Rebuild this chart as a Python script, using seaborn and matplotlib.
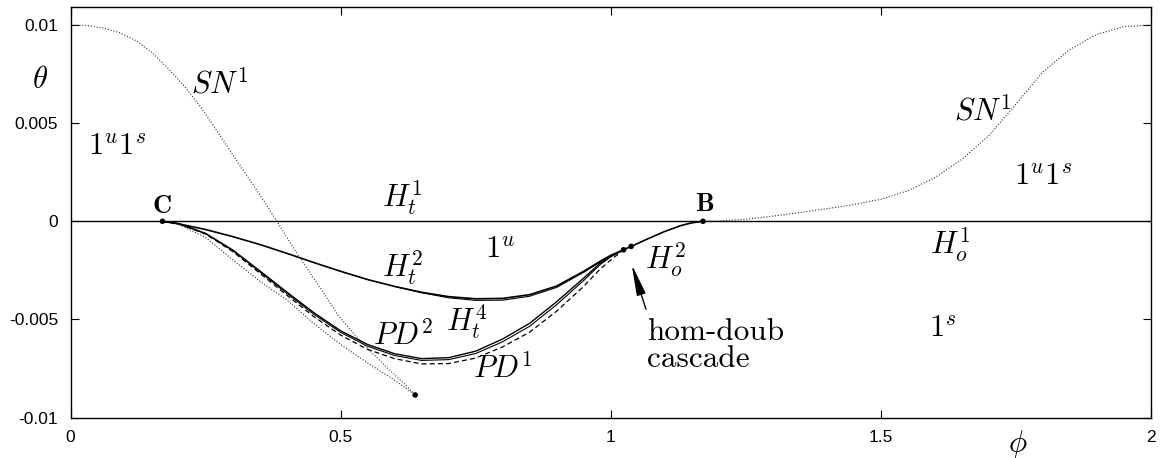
import matplotlib
matplotlib.use("Agg")
import matplotlib.pyplot as plt
import seaborn as sns

# values: phi (x) and theta (y)
zero_phi = [0.0, 2.0]
zero_theta = [0.0, 0.0]

sn1_left_phi = [0.0, 0.03, 0.06, 0.09, 0.12, 0.15, 0.18, 0.21, 0.24, 0.27, 0.30, 0.33, 0.36, 0.382,
                0.414, 0.44, 0.464, 0.495, 0.525, 0.55, 0.588, 0.618, 0.638]
sn1_left_theta = [0.0100, 0.00998, 0.00985, 0.00962, 0.00922, 0.00862, 0.00780, 0.00690, 0.00585,
                  0.00465, 0.00340, 0.00218, 0.00095, 0.0,
                  -0.00142, -0.0025, -0.00346, -0.00478, -0.00575, -0.00648, -0.00752, -0.00828, -0.00885]

sn1_right_phi = [1.171, 1.2, 1.25, 1.3, 1.354, 1.4, 1.45, 1.5, 1.55, 1.6, 1.65, 1.7, 1.75, 1.8,
                 1.85, 1.9, 1.95, 2.0]
sn1_right_theta = [0.0, 0.00002, 0.0001, 0.00026, 0.00046, 0.00064, 0.00085, 0.00112, 0.00155,
                   0.00222, 0.00315, 0.00435, 0.00595, 0.0076, 0.00875, 0.00952, 0.00992, 0.0100]

low_dot_phi = [0.17, 0.2, 0.25, 0.3, 0.35, 0.4, 0.45, 0.5, 0.55, 0.6, 0.638]
low_dot_theta = [0.0, -0.00016, -0.00082, -0.00196, -0.00305, -0.004, -0.0052, -0.00628, -0.00722,
                 -0.0081, -0.00885]

ht2_phi = [0.17, 0.2, 0.25, 0.3, 0.35, 0.4, 0.45, 0.5, 0.55, 0.6, 0.65, 0.7, 0.75, 0.8, 0.85,
           0.9, 0.95, 0.983, 1.0, 1.024, 1.038, 1.07, 1.1, 1.13, 1.15, 1.171]
ht2_theta = [0.0, -0.00013, -0.00042, -0.00078, -0.00118, -0.00163, -0.0021, -0.00255, -0.00297,
             -0.00332, -0.00362, -0.00384, -0.00395, -0.00393, -0.00374, -0.0033, -0.00255, -0.002,
             -0.00174, -0.00145, -0.00128, -0.00088, -0.00052, -0.00022, -0.00008, 0.0]

ht4_phi = [0.6, 0.65, 0.7, 0.75, 0.8, 0.85, 0.9, 0.95, 0.983, 1.0, 1.024]
ht4_theta = [-0.00332, -0.00364, -0.0039, -0.00403, -0.00402, -0.00382, -0.00337, -0.0026,
             -0.00204, -0.00177, -0.00145]

pd2_phi = [0.17, 0.2, 0.25, 0.3, 0.35, 0.4, 0.45, 0.5, 0.55, 0.6, 0.65, 0.7, 0.75, 0.8, 0.85,
           0.9, 0.95, 0.98, 1.0, 1.024]
pd2_theta = [0.0, -0.00012, -0.00062, -0.00146, -0.00252, -0.0036, -0.00465, -0.00558, -0.00628,
             -0.00675, -0.007, -0.00695, -0.00662, -0.006, -0.0052, -0.0041, -0.0029, -0.00215,
             -0.00178, -0.00145]
pd2b_theta = [0.0, -0.00012, -0.00063, -0.00149, -0.00257, -0.00367, -0.00473, -0.00566, -0.00637,
              -0.00684, -0.00709, -0.00705, -0.00674, -0.00614, -0.00535, -0.00425, -0.00302,
              -0.00222, -0.00182, -0.00145]
pd1_theta = [0.0, -0.00013, -0.00065, -0.00154, -0.00264, -0.00376, -0.00485, -0.0058, -0.00653,
             -0.007, -0.00727, -0.00725, -0.00697, -0.0064, -0.00565, -0.00458, -0.00332, -0.00245,
             -0.00198, -0.00145]

point_phi = [0.17, 1.171, 1.024, 1.038, 0.638]
point_theta = [0.0, 0.0, -0.00145, -0.00128, -0.00885]

sns.set_style("ticks")
plt.rcParams["mathtext.fontset"] = "cm"
plt.rcParams["font.family"] = ["Liberation Sans", "DejaVu Sans"]
plt.rcParams["text.color"] = "black"

fig = plt.figure(figsize=(11.62, 4.58), dpi=100)
ax = fig.add_axes([0.0608, 0.0884, 0.9294, 0.8963])


def curve(phi, theta, **kw):
    sns.lineplot(x=phi, y=theta, ax=ax, sort=False, estimator=None, **kw)


dotted = dict(color="0.2", lw=0.8, linestyle=(0, (1, 1.6)))
curve(zero_phi, zero_theta, color="black", lw=1.0)
curve(sn1_left_phi, sn1_left_theta, **dotted)
curve(sn1_right_phi, sn1_right_theta, **dotted)
curve(low_dot_phi, low_dot_theta, **dotted)
curve(ht2_phi, ht2_theta, color="black", lw=1.2)
curve(ht4_phi, ht4_theta, color="black", lw=0.8)
curve(pd2_phi, pd2_theta, color="black", lw=1.0)
curve(pd2_phi, pd2b_theta, color="black", lw=0.8)
curve(pd2_phi, pd1_theta, color="black", lw=0.9, linestyle=(0, (4, 2.5)))

sns.scatterplot(x=point_phi, y=point_theta, ax=ax, color="black", s=16,
                edgecolor="none", zorder=5)

ax.annotate("", xy=(1.039, -0.0022), xytext=(1.0654, -0.00448),
            arrowprops=dict(arrowstyle="-|>,head_length=1.9,head_width=0.28",
                            color="black", lw=1.0, shrinkA=0, shrinkB=0))

fs = 22
lab = dict(fontsize=fs, ha="center", va="center", color="black")
ax.text(0.2765, 0.00695, r"$SN^1$", **lab)
ax.text(0.0857, 0.0038, r"$1^u1^s$", **lab)
ax.text(0.169, 0.00078, r"$\mathbf{C}$", fontsize=19, ha="center", va="center")
ax.text(0.6135, 0.00121, r"$H_t^1$", **lab)
ax.text(0.795, -0.00143, r"$1^u$", **lab)
ax.text(0.6135, -0.00235, r"$H_t^2$", **lab)
ax.text(0.734, -0.00509, r"$H_t^4$", **lab)
ax.text(0.615, -0.00585, r"$PD^2$", **lab)
ax.text(0.80, -0.00753, r"$PD^1$", **lab)
ax.text(1.1746, 0.00088, r"$\mathbf{B}$", fontsize=19, ha="center", va="center")
ax.text(1.1005, -0.00194, r"$H_o^2$", **lab)
ax.text(1.067, -0.00495, "hom-doub\ncascade", family="cmr10", fontsize=22.5,
        ha="left", va="top", linespacing=0.95)
ax.text(1.689, 0.00558, r"$SN^1$", **lab)
ax.text(1.8005, 0.00228, r"$1^u1^s$", **lab)
ax.text(1.628, -0.00118, r"$H_o^1$", **lab)
ax.text(1.615, -0.0055, r"$1^s$", **lab)

ax.text(-0.0284, 0.822, r"$\theta$", transform=ax.transAxes, **lab)
ax.text(0.877, -0.0646, r"$\phi$", transform=ax.transAxes, **lab)

ax.set_xlim(0, 2)
ax.set_ylim(-0.01, 0.01092)
ax.set_xticks([0, 0.5, 1, 1.5, 2], ["0", "0.5", "1", "1.5", "2"])
ax.set_yticks([-0.01, -0.005, 0, 0.005, 0.01], ["-0.01", "-0.005", "0", "0.005", "0.01"])
ax.tick_params(direction="in", top=True, right=True, length=6, width=0.8,
               labelsize=12.5, pad=9, colors="black")
for sp in ax.spines.values():
    sp.set_visible(True)
    sp.set_color("black")
    sp.set_linewidth(1.0)
ax.set_xlabel("")
ax.set_ylabel("")

fig.savefig("out.png", dpi=100)
